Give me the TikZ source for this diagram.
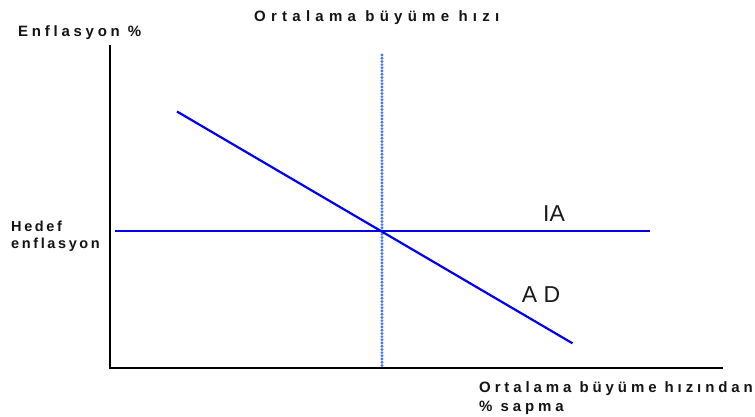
\documentclass[tikz,border=0pt]{standalone}
\usepackage{fontspec}
\setmainfont{Liberation Sans}
\newfontfamily\titlefont[LetterSpace=35]{Liberation Sans}
\newfontfamily\ylabfont[LetterSpace=25]{Liberation Sans}
\newfontfamily\targetfont[LetterSpace=18]{Liberation Sans}
\newfontfamily\xlabfont[LetterSpace=26]{Liberation Sans}
\usetikzlibrary{positioning}

\begin{document}
\begin{tikzpicture}[x=1pt,y=-1pt,line cap=butt,
  axis/.style={line width=2pt,black},
  curve/.style={line width=2.2pt,blue!92!black},
  guide/.style={line width=3.2pt,color={rgb,255:red,70;green,120;blue,255},
    line cap=round,dash pattern=on 0pt off 3.2pt},
  lab/.style={text=black!92,inner sep=0pt},
  curvelab/.style={font=\fontsize{23}{24}\selectfont,text=black!90,inner sep=0pt}]

  \useasboundingbox (0,0) rectangle (755,416);

  % ---- axes ----
  \coordinate (top) at (110,45);
  \coordinate (origin) at (110,368);
  \coordinate (right) at (723,368);
  \draw[axis] (top) -- (origin) -- (right);

  % ---- lines ----
  \coordinate (ia1) at (115,231);
  \coordinate (ia2) at (650,231);
  \coordinate (ad1) at (177,111.5);
  \coordinate (ad2) at (572.5,343.3);
  \coordinate (g1) at (382,55);
  \coordinate (g2) at (382,368);
  \draw[guide] (g1) -- (g2);
  \draw[curve] (ia1) -- (ia2);
  \draw[curve] (ad1) -- (ad2);

  % ---- labels ----
  \node[lab,anchor=base west,font=\titlefont\bfseries\fontsize{15}{16}\selectfont] (title) at (254,21) {Ortalama büyüme hızı};
  \node[lab,anchor=base west,font=\ylabfont\bfseries\fontsize{15}{16}\selectfont] (ylab) at (18,36) {Enflasyon \%};
  \node[lab,anchor=north west,align=left,font=\targetfont\bfseries\fontsize{14.5}{17}\selectfont] (target) at (11,221) {Hedef\\enflasyon};
  \node[lab,anchor=north west,align=left,font=\xlabfont\bfseries\fontsize{15}{19}\selectfont] (xlab) at (479,381) {Ortalama büyüme hızından\\\% sapma};
  \node[curvelab] (ialab) at (554,214) {IA};
  \node[curvelab] (adlab) at (541,295) {A D};
\end{tikzpicture}
\end{document}
